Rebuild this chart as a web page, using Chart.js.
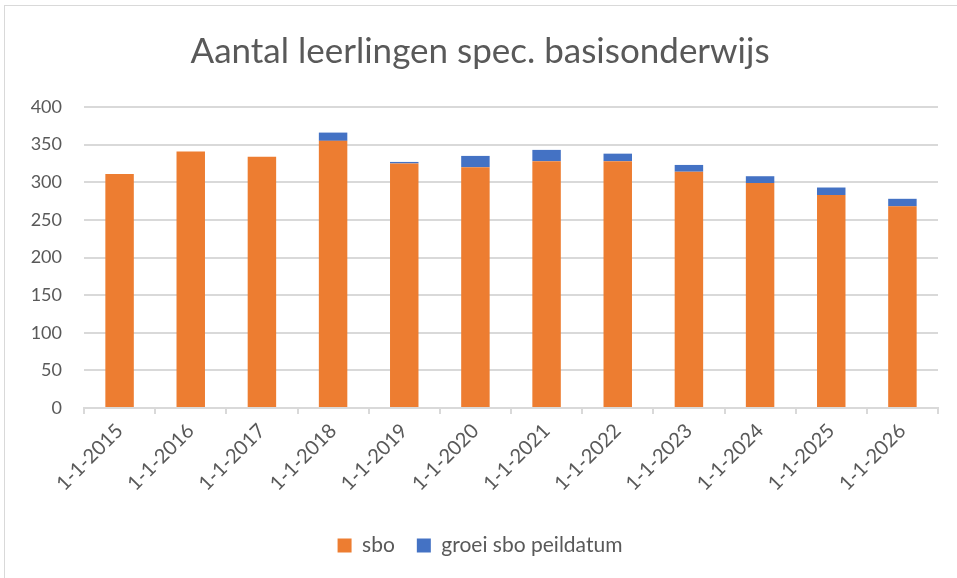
<!DOCTYPE html>
<html>
<head>
<meta charset="utf-8">
<script src="https://cdn.jsdelivr.net/npm/chart.js@4/dist/chart.umd.min.js"></script>
<style>
  html, body { margin: 0; padding: 0; background: #fff; overflow: hidden; }
  #frame { position: absolute; left: 4px; top: 5px; width: 970px; height: 600px; border: 1px solid #d9d9d9; }
  #wrap { position: absolute; left: 0; top: 0; width: 957px; height: 578px; }
</style>
</head>
<body>
<div id="frame"></div>
<div id="wrap"><canvas id="chart"></canvas></div>
<script>
// chart data
const categories = ["1-1-2015", "1-1-2016", "1-1-2017", "1-1-2018", "1-1-2019", "1-1-2020",
                    "1-1-2021", "1-1-2022", "1-1-2023", "1-1-2024", "1-1-2025", "1-1-2026"];
const sbo = [311, 341, 334, 355, 325, 320, 328, 328, 314, 299, 283, 268];
const groei = [0, 0, 0, 11, 2, 15, 15, 10, 9, 9, 10, 10];
const yTicks = [0, 50, 100, 150, 200, 250, 300, 350, 400];

const grey = '#595959';
const gridColor = '#d9d9d9';
const fontFamily = 'Lato, "Open Sans", sans-serif';

const ctx = document.getElementById("chart").getContext("2d");
const chart = new Chart(ctx, {
    type: 'bar',
    data: {
        labels: categories,
        datasets: [{
            label: 'sbo',
            data: sbo,
            backgroundColor: '#ED7D31',
            barPercentage: 0.4,
            categoryPercentage: 1.0
        }, {
            label: 'groei sbo peildatum',
            data: groei,
            backgroundColor: '#4472C4',
            barPercentage: 0.4,
            categoryPercentage: 1.0
        }]
    },
    options: {
        responsive: true,
        maintainAspectRatio: false,
        animation: false,
        layout: { padding: { left: 22, right: 19, top: 0, bottom: 12 } },
        plugins: {
            title: {
                display: true,
                text: 'Aantal leerlingen spec. basisonderwijs',
                color: grey,
                font: { family: fontFamily, size: 35, weight: 'normal' },
                padding: { top: 31, bottom: 34 }
            },
            legend: {
                position: 'bottom',
                labels: {
                    color: grey,
                    font: { family: fontFamily, size: 21 },
                    boxWidth: 14,
                    boxHeight: 14,
                    padding: 22
                }
            },
            tooltip: { enabled: false }
        },
        scales: {
            x: {
                stacked: true,
                afterFit: scale => { scale.height = 105; },
                grid: {
                    display: true,
                    drawOnChartArea: false,
                    drawTicks: true,
                    tickLength: 6,
                    color: gridColor,
                    lineWidth: 2
                },
                border: { display: true, color: gridColor, width: 2 },
                ticks: {
                    color: grey,
                    font: { family: fontFamily, size: 20 },
                    maxRotation: 45,
                    minRotation: 45,
                    padding: 5
                }
            },
            y: {
                stacked: true,
                min: 0,
                max: 400,
                afterFit: scale => { scale.width = 62; },
                afterBuildTicks: scale => { scale.ticks = yTicks.map(v => ({ value: v })); },
                grid: { color: gridColor, lineWidth: 2, drawTicks: false },
                border: { display: false },
                ticks: {
                    color: grey,
                    font: { family: fontFamily, size: 18 },
                    padding: 22
                }
            }
        }
    }
});
</script>
</body>
</html>
